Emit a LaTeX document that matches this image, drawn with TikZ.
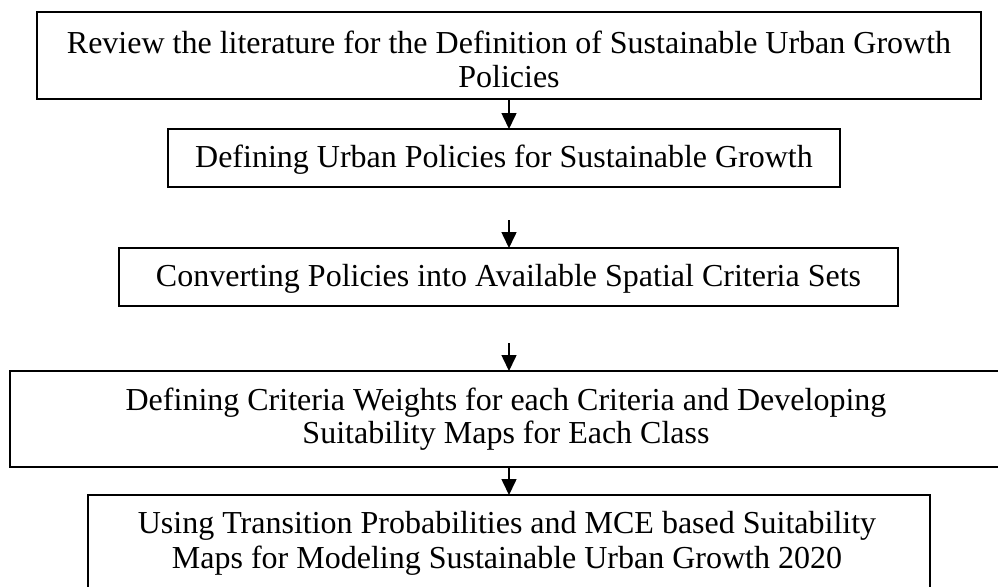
\documentclass[tikz,border=0pt]{standalone}
\usepackage{fontspec}
\setmainfont{Liberation Serif}
\usetikzlibrary{arrows.meta}
\begin{document}
\begin{tikzpicture}[x=1pt,y=-1pt,
  frame/.style={draw=black, line width=2.2pt, rectangle, inner sep=0pt, outer sep=0pt},
  txt/.style={anchor=base, inner sep=0pt, font=\fontsize{32}{35}\selectfont},
  flow/.style={line width=1.6pt, -{Triangle[width=15pt,length=16pt]}}]
\useasboundingbox (0,0) rectangle (998,586);
\clip (0,0) rectangle (998,586);

% process boxes
\node[frame, minimum width=944pt, minimum height=87pt] (b1) at (509,55.5) {};
\node[frame, minimum width=672pt, minimum height=58pt] (b2) at (504,158) {};
\node[frame, minimum width=779pt, minimum height=58pt] (b3) at (508.5,277) {};
\node[frame, minimum width=998pt, minimum height=96pt] (b4) at (509,419) {};
\node[frame, minimum width=842pt, minimum height=96pt] (b5) at (509,543) {};

% box captions, one node per printed line
\node[txt] (t1a) at (509,53) {Review the literature for the Definition of Sustainable Urban Growth};
\node[txt] (t1b) at (509,88) {Policies};
\node[txt] (t2) at (504,167) {Defining Urban Policies for Sustainable Growth};
\node[txt] (t3) at (508.5,286) {Converting Policies into Available Spatial Criteria Sets};
\node[txt] (t4a) at (506,410) {Defining Criteria Weights for each Criteria and Developing};
\node[txt] (t4b) at (506,443) {Suitability Maps for Each Class};
\node[txt] (t5a) at (507,533) {Using Transition Probabilities and MCE based Suitability};
\node[txt] (t5b) at (507,568) {Maps for Modeling Sustainable Urban Growth 2020};

% connectors
\draw[flow] (b1.south) -- (b1.south |- b2.north);
\draw[flow, shorten <=33pt] (b1.south |- b2.south) -- (b1.south |- b3.north);
\draw[flow, shorten <=37pt] (b1.south |- b3.south) -- (b1.south |- b4.north);
\draw[flow] (b1.south |- b4.south) -- (b1.south |- b5.north);
\end{tikzpicture}
\end{document}
